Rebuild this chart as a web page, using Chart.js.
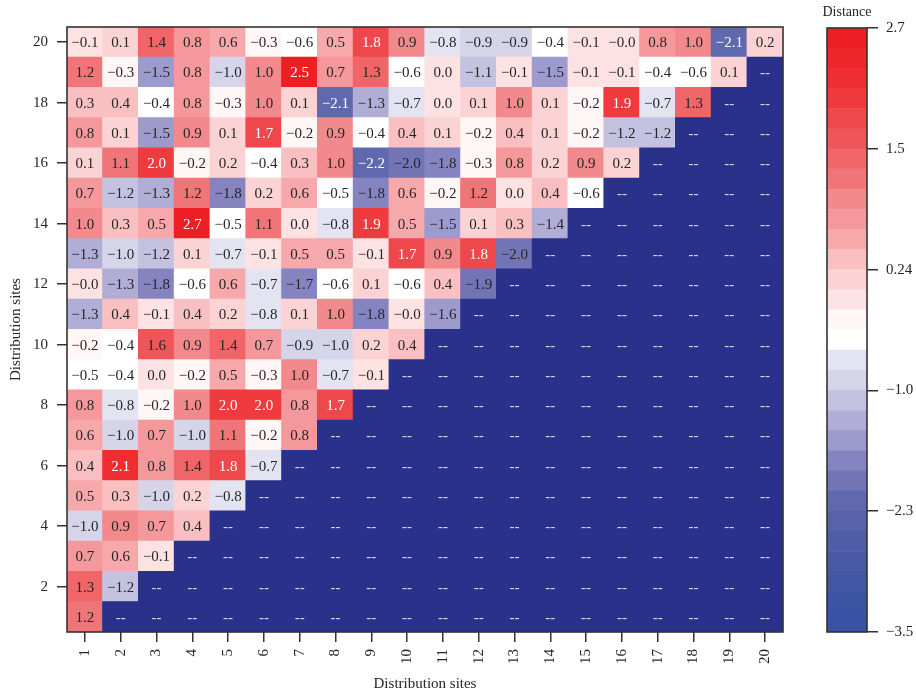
<!DOCTYPE html>
<html>
<head>
<meta charset="utf-8">
<title>Distance between distribution sites</title>
<script src="https://cdn.jsdelivr.net/npm/chart.js@4.4.1/dist/chart.umd.min.js"></script>
<style>
  html, body { margin: 0; padding: 0; background: #ffffff; }
  #wrap { position: relative; width: 916px; height: 695px; overflow: hidden; }
  #mainBox { position: absolute; left: 0; top: 0; width: 800px; height: 695px; }
  #barBox { position: absolute; left: 800px; top: 0; width: 116px; height: 695px; }
</style>
</head>
<body>
<div id="wrap">
  <div id="mainBox"><canvas id="heat"></canvas></div>
  <div id="barBox"><canvas id="scaleBar"></canvas></div>
</div>
<script>
// Site numbers along both axes
const sites = ['1','2','3','4','5','6','7','8','9','10','11','12','13','14','15','16','17','18','19','20'];

// Distance values for each row (row N holds sites 1..N)
const row20 = [-0.1, 0.1, 1.4, 0.8, 0.6, -0.3, -0.6, 0.5, 1.8, 0.9, -0.8, -0.9, -0.9, -0.4, -0.1, -0.0, 0.8, 1.0, -2.1, 0.2];
const row19 = [1.2, -0.3, -1.5, 0.8, -1.0, 1.0, 2.5, 0.7, 1.3, -0.6, 0.0, -1.1, -0.1, -1.5, -0.1, -0.1, -0.4, -0.6, 0.1];
const row18 = [0.3, 0.4, -0.4, 0.8, -0.3, 1.0, 0.1, -2.1, -1.3, -0.7, 0.0, 0.1, 1.0, 0.1, -0.2, 1.9, -0.7, 1.3];
const row17 = [0.8, 0.1, -1.5, 0.9, 0.1, 1.7, -0.2, 0.9, -0.4, 0.4, 0.1, -0.2, 0.4, 0.1, -0.2, -1.2, -1.2];
const row16 = [0.1, 1.1, 2.0, -0.2, 0.2, -0.4, 0.3, 1.0, -2.2, -2.0, -1.8, -0.3, 0.8, 0.2, 0.9, 0.2];
const row15 = [0.7, -1.2, -1.3, 1.2, -1.8, 0.2, 0.6, -0.5, -1.8, 0.6, -0.2, 1.2, 0.0, 0.4, -0.6];
const row14 = [1.0, 0.3, 0.5, 2.7, -0.5, 1.1, 0.0, -0.8, 1.9, 0.5, -1.5, 0.1, 0.3, -1.4];
const row13 = [-1.3, -1.0, -1.2, 0.1, -0.7, -0.1, 0.5, 0.5, -0.1, 1.7, 0.9, 1.8, -2.0];
const row12 = [-0.0, -1.3, -1.8, -0.6, 0.6, -0.7, -1.7, -0.6, 0.1, -0.6, 0.4, -1.9];
const row11 = [-1.3, 0.4, -0.1, 0.4, 0.2, -0.8, 0.1, 1.0, -1.8, -0.0, -1.6];
const row10 = [-0.2, -0.4, 1.6, 0.9, 1.4, 0.7, -0.9, -1.0, 0.2, 0.4];
const row09 = [-0.5, -0.4, 0.0, -0.2, 0.5, -0.3, 1.0, -0.7, -0.1];
const row08 = [0.8, -0.8, -0.2, 1.0, 2.0, 2.0, 0.8, 1.7];
const row07 = [0.6, -1.0, 0.7, -1.0, 1.1, -0.2, 0.8];
const row06 = [0.4, 2.1, 0.8, 1.4, 1.8, -0.7];
const row05 = [0.5, 0.3, -1.0, 0.2, -0.8];
const row04 = [-1.0, 0.9, 0.7, 0.4];
const row03 = [0.7, 0.6, -0.1];
const row02 = [1.3, -1.2];
const row01 = [1.2];

// Y axis tick values
const yTickValues = [2, 4, 6, 8, 10, 12, 14, 16, 18, 20];

// Colour scale limits, band count and its tick labels
const scaleMin = -3.5;
const scaleMax = 2.7;
const scaleBands = 30;
const scaleTickValues = [2.7, 1.46, 0.22, -1.02, -2.26, -3.5];
const scaleTickLabels = ['2.7', '1.5', '0.24', '\u22121.0', '\u22122.3', '\u22123.5'];

// Band colours, from the lowest band upwards
const palette = [
  [57, 82, 163], [61, 84, 164], [66, 86, 165], [72, 89, 166], [79, 93, 168],
  [87, 98, 171], [96, 104, 174], [114, 116, 182], [133, 132, 192], [157, 155, 205],
  [176, 174, 214], [196, 194, 224], [214, 212, 233], [228, 227, 241], [255, 255, 255],
  [255, 246, 246], [253, 226, 227], [251, 211, 212], [250, 192, 193], [247, 168, 170],
  [244, 152, 155], [242, 137, 140], [240, 117, 120], [239, 101, 104], [239, 86, 89],
  [238, 72, 76], [239, 58, 62], [238, 46, 50], [238, 37, 41], [237, 30, 36]
];
const emptyColor = 'rgb(42, 49, 139)';
const emptyTextColor = '#d6d9f0';
const inkColor = '#262626';
const serif = '"Liberation Serif", "DejaVu Serif", serif';

const rowsByLevel = [row01, row02, row03, row04, row05, row06, row07, row08, row09, row10,
                     row11, row12, row13, row14, row15, row16, row17, row18, row19, row20];

const bandWidth = (scaleMax - scaleMin) / scaleBands;
function bandOf(v) {
  let k = Math.floor((v - scaleMin) / bandWidth - 1e-6);
  return Math.max(0, Math.min(scaleBands - 1, k));
}
function rgb(c) { return 'rgb(' + c[0] + ',' + c[1] + ',' + c[2] + ')'; }
function colorOf(v) { return v === null ? emptyColor : rgb(palette[bandOf(v)]); }
function fmt(v) {
  const neg = v < 0 || Object.is(v, -0);
  return (neg ? '\u2212' : '') + Math.abs(v).toFixed(1);
}

// One floating-bar dataset per row; every bar spans one unit of the y scale
const heatDatasets = rowsByLevel.map((row, idx) => {
  const level = idx + 1;
  const vals = sites.map((s, i) => (i < row.length ? row[i] : null));
  return {
    label: 'row ' + level,
    data: sites.map(() => [level - 0.5, level + 0.5]),
    cellValues: vals,
    backgroundColor: vals.map(colorOf),
    borderWidth: 0,
    borderSkipped: false,
    inflateAmount: 0.6,
    grouped: false,
    barPercentage: 1,
    categoryPercentage: 1
  };
});

// Writes each cell's value and strokes the frame around the plot
const cellText = {
  id: 'cellText',
  afterDatasetsDraw(chart) {
    const ctx = chart.ctx;
    ctx.save();
    ctx.font = '15px ' + serif;
    ctx.textAlign = 'center';
    ctx.textBaseline = 'middle';
    chart.data.datasets.forEach((ds, di) => {
      const meta = chart.getDatasetMeta(di);
      meta.data.forEach((el, i) => {
        const v = ds.cellValues[i];
        const cy = (el.y + el.base) / 2 + 1;
        if (v === null) {
          ctx.fillStyle = emptyTextColor;
          ctx.fillText('--', el.x, cy);
        } else {
          ctx.fillStyle = (v >= 1.7 || v <= -2.05) ? '#ffffff' : inkColor;
          ctx.fillText(fmt(v), el.x, cy);
        }
      });
    });
    const a = chart.chartArea;
    ctx.strokeStyle = '#333333';
    ctx.lineWidth = 1.6;
    ctx.strokeRect(a.left, a.top, a.right - a.left, a.bottom - a.top);
    ctx.restore();
  }
};

new Chart(document.getElementById('heat'), {
  type: 'bar',
  data: { labels: sites, datasets: heatDatasets },
  plugins: [cellText],
  options: {
    responsive: true,
    maintainAspectRatio: false,
    animation: false,
    layout: { padding: { top: 27, right: 17, left: 0, bottom: 0 } },
    plugins: { legend: { display: false }, tooltip: { enabled: false } },
    scales: {
      x: {
        type: 'category',
        offset: true,
        grid: { offset: false, drawOnChartArea: false, drawTicks: true, tickLength: 10, color: '#333333', lineWidth: 1.5 },
        border: { display: false },
        ticks: { minRotation: 90, maxRotation: 90, autoSkip: false, padding: 7, color: inkColor, font: { family: serif, size: 15 } },
        title: { display: true, text: 'Distribution sites', color: inkColor, font: { family: serif, size: 15 }, padding: { top: 0, bottom: 2 } },
        afterFit(scale) { scale.height = 63; }
      },
      y: {
        type: 'linear',
        min: 0.5,
        max: 20.5,
        afterBuildTicks(scale) { scale.ticks = yTickValues.map(v => ({ value: v })); },
        grid: { drawOnChartArea: false, drawTicks: true, tickLength: 10, color: '#333333', lineWidth: 1.5 },
        border: { display: false },
        ticks: { padding: 9, color: inkColor, font: { family: serif, size: 15 }, callback: v => String(v) },
        title: { display: true, text: 'Distribution sites', color: inkColor, font: { family: serif, size: 15 }, padding: { top: 7, bottom: 0 } },
        afterFit(scale) { scale.width = 67; }
      }
    }
  }
});

// Colour bar: one floating bar per band on the distance scale
const bandDatasets = palette.map((c, k) => ({
  label: 'band ' + k,
  data: [[scaleMin + k * bandWidth, scaleMin + (k + 1) * bandWidth]],
  backgroundColor: rgb(c),
  borderWidth: 0,
  borderSkipped: false,
  grouped: false,
  barPercentage: 1,
  categoryPercentage: 1
}));

const barFrame = {
  id: 'barFrame',
  afterDatasetsDraw(chart) {
    const ctx = chart.ctx;
    const a = chart.chartArea;
    ctx.save();
    ctx.strokeStyle = '#333333';
    ctx.lineWidth = 1.6;
    ctx.strokeRect(a.left, a.top, a.right - a.left, a.bottom - a.top);
    ctx.fillStyle = inkColor;
    ctx.font = '14px ' + serif;
    ctx.textAlign = 'center';
    ctx.textBaseline = 'middle';
    ctx.fillText('Distance', (a.left + a.right) / 2, 12);
    ctx.restore();
  }
};

new Chart(document.getElementById('scaleBar'), {
  type: 'bar',
  data: { labels: [''], datasets: bandDatasets },
  plugins: [barFrame],
  options: {
    responsive: true,
    maintainAspectRatio: false,
    animation: false,
    layout: { padding: { top: 28, right: 0, left: 27, bottom: 63 } },
    plugins: { legend: { display: false }, tooltip: { enabled: false } },
    scales: {
      x: { display: false },
      y: {
        position: 'right',
        min: scaleMin,
        max: scaleMax,
        afterBuildTicks(scale) { scale.ticks = scaleTickValues.map(v => ({ value: v })); },
        grid: { drawOnChartArea: false, drawTicks: true, tickLength: 11, color: '#333333', lineWidth: 1.5 },
        border: { display: false },
        ticks: {
          padding: 8,
          color: inkColor,
          font: { family: serif, size: 15 },
          callback: v => {
            const i = scaleTickValues.findIndex(t => Math.abs(t - v) < 1e-9);
            return i >= 0 ? scaleTickLabels[i] : '';
          }
        },
        afterFit(scale) { scale.width = 49; }
      }
    }
  }
});
</script>
</body>
</html>
